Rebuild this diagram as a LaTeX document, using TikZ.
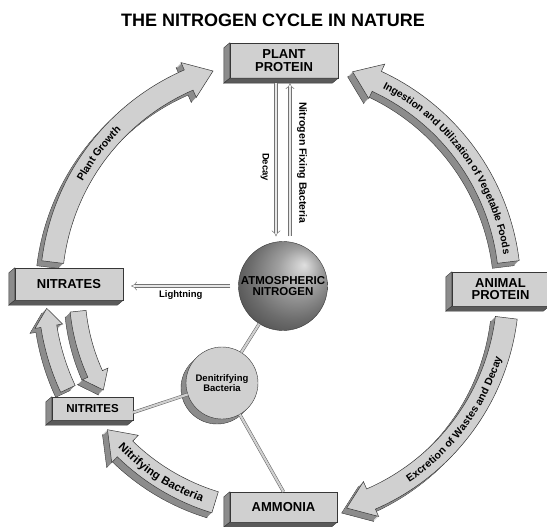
\documentclass[tikz,border=0pt]{standalone}
\usepackage{fontspec}
\setmainfont{Liberation Sans}
\usetikzlibrary{arrows.meta,positioning,calc,decorations.text}
\definecolor{face}{RGB}{208,208,208}
\definecolor{side}{RGB}{140,140,140}
\definecolor{under}{RGB}{90,90,90}
\definecolor{rim}{RGB}{55,55,55}
\pgfdeclarelayer{back}
\pgfsetlayers{back,main}
\pgfdeclareradialshading{atmosball}{\pgfpoint{12bp}{12bp}}{color(0bp)=(gray!25);color(12bp)=(gray!75);color(25bp)=(gray!85!black);color(35bp)=(gray!60!black);color(50bp)=(black!85)}

% radius, tail angle, tip angle, half width, head half width, head length
\newcommand{\cyclearrow}[6]{%
  \pgfmathsetmacro{\hb}{#3-sign(#3-#2)*#6/#1*180/pi}
  \pgfmathsetmacro{\rout}{#1+#4}\pgfmathsetmacro{\rin}{#1-#4}
  \pgfmathsetmacro{\hout}{#1+#5}\pgfmathsetmacro{\hin}{#1-#5}
  \def\ribbon{plot[domain=#2:\hb,samples=40] (\x:\rout) -- (\hb:\hout) -- (#3:#1) -- (\hb:\hin) -- plot[domain=\hb:#2,samples=40] (\x:\rin) -- cycle}
  \filldraw[fill=side,draw=rim,line width=0.4pt,shift={(-5,5)}] \ribbon;
  \foreach \k in {4,3,2,1} \fill[side,shift={(-\k,\k)}] \ribbon;
  \filldraw[fill=face,draw=rim,line width=0.5pt] \ribbon;
}
% radius, from, to, font size, text
\newcommand{\cyclelabel}[5]{%
  \pgfmathsetmacro{\lift}{-0.36*#4}
  \path[decorate,decoration={text along path,text align=center,raise=\lift pt,
    text={|\fontsize{#4}{#4}\selectfont\bfseries|#5}}] plot[domain=#2:#3,samples=60] (\x:#1);
}

\begin{document}
\begin{tikzpicture}[x=1pt,y=-1pt,
  box/.style={draw=rim,fill=face,align=center,inner sep=0pt,font=\fontsize{13}{12.5}\selectfont\bfseries},
  hollow/.style={draw=rim!70,double=face!50!white,double distance=2.6pt,line width=0.5pt,-{Implies}},
  link/.style={draw=rim!80,double=face,double distance=2.2pt,line width=0.5pt},
  lbl/.style={font=\fontsize{9.5}{10}\selectfont\bfseries}]

  \useasboundingbox (0,0) rectangle (547,527);

  \node[font=\fontsize{18}{18}\selectfont\bfseries] (title) at (273,20) {THE NITROGEN CYCLE IN NATURE};

  % the big cycle
  \begin{scope}[shift={(280,290)}]
    \cyclearrow{229}{187}{253}{11}{19}{26}
    \cyclearrow{230}{353}{288.4}{11}{19}{26}
    \cyclearrow{228}{7}{73}{11}{19}{26}
    \cyclearrow{222}{107}{141}{11}{19}{26}
    \cyclearrow{234}{155}{175.5}{8}{14}{18}
    \cyclearrow{203}{174}{150.5}{8}{14}{18}
    \cyclelabel{229}{188}{246}{10.5}{Plant Growth}
    \cyclelabel{230}{295}{353}{10.3}{Ingestion and Utilization of Vegetable Foods}
    \cyclelabel{228}{66}{7}{10.5}{Excretion of Wastes and Decay}
    \cyclelabel{222}{139}{107}{11.5}{Nitrifying Bacteria}
  \end{scope}

  \node[box,minimum width=108pt,minimum height=35pt] (plant) at (284,60.5) {PLANT\\PROTEIN};
  \node[box,minimum width=108pt,minimum height=32pt] (nitrates) at (69,284) {NITRATES};
  \node[box,minimum width=97pt,minimum height=34pt] (animal) at (500.5,289) {ANIMAL\\PROTEIN};
  \node[box,minimum width=81pt,minimum height=23pt,font=\fontsize{11.5}{12}\selectfont\bfseries] (nitrites) at (92.5,408.5) {NITRITES};
  \node[box,minimum width=107pt,minimum height=30pt] (ammonia) at (283.5,507) {AMMONIA};
  \foreach \b in {plant,nitrates,animal,nitrites,ammonia}{
    \filldraw[fill=side,draw=rim] (\b.north west) -- (\b.south west) -- ++(-6,5) -- ($(\b.north west)+(-6,5)$) -- cycle;
    \filldraw[fill=under,draw=rim] (\b.south west) -- (\b.south east) -- ++(-6,5) -- ($(\b.south west)+(-6,5)$) -- cycle;
  }

  \node[circle,minimum size=89pt,inner sep=0pt,shade,shading=atmosball,draw=rim,
    font=\fontsize{11.5}{10.5}\selectfont\bfseries,align=center] (atmos) at (283,286) {ATMOSPHERIC\\NITROGEN};
  \node[circle,minimum size=72pt,inner sep=0pt,fill=face,draw=rim,
    font=\fontsize{9.5}{10}\selectfont\bfseries,align=center] (den) at (222,383) {Denitrifying\\Bacteria};
  \begin{pgfonlayer}{back}
    \filldraw[fill=side,draw=rim] ([shift={(-5,5)}]den.center) circle (36);
    \foreach \k in {1,...,4} \fill[side] ([shift={(-\k,\k)}]den.center) circle (36);
  \end{pgfonlayer}

  \coordinate (dtop) at ([xshift=-8pt]plant.south);
  \coordinate (dbot) at (dtop |- atmos.north);
  \coordinate (ftop) at ([xshift=6pt]plant.south);
  \coordinate (fbot) at (ftop |- atmos.north);
  \draw[hollow,shorten <=5pt,shorten >=5pt] (dtop) -- (dbot);
  \draw[hollow,shorten <=5pt,shorten >=5pt] (fbot) -- (ftop);
  \node[rotate=-90,font=\fontsize{9.5}{10}\selectfont\bfseries] (decaylbl) at (265,167) {Decay};
  \node[rotate=-90,font=\fontsize{10.5}{11}\selectfont\bfseries] (fixlbl) at (302,163) {Nitrogen Fixing Bacteria};

  \draw[hollow,shorten <=8pt,shorten >=8pt] (atmos.west) -- (atmos.west -| nitrates.east)
    node[midway,below=1pt,lbl] (lightlbl) {Lightning};

  \draw[link] (atmos) -- (den);
  \draw[link] (den) -- ([yshift=-4pt]nitrites.east);
  \draw[link] (den) -- (ammonia.north);
\end{tikzpicture}
\end{document}
